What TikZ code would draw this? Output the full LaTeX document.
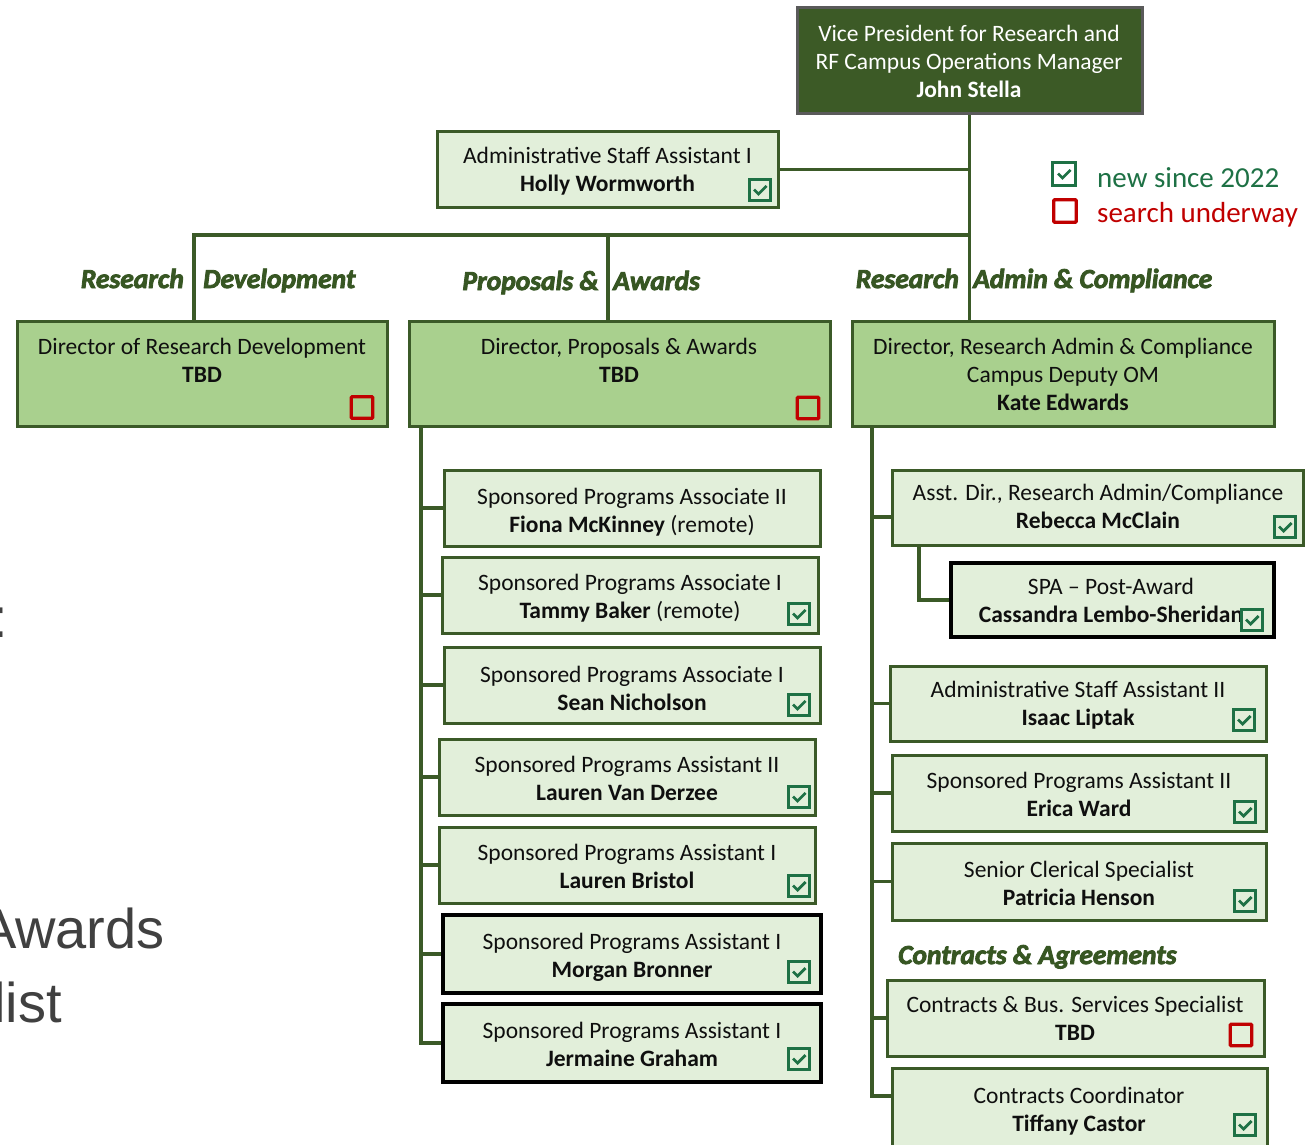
\documentclass[tikz,border=0pt]{standalone}
\usepackage{fontspec}
\setmainfont{Carlito}
\newfontfamily\headfont{Carlito}[FakeBold=3]
\newfontfamily\grayfont{Liberation Sans}
\usetikzlibrary{fit}
\definecolor{lnG}{HTML}{3B5A28}
\definecolor{vpG}{HTML}{3C5A26}
\definecolor{vpB}{HTML}{5A5A5A}
\definecolor{dirG}{HTML}{A9D08E}
\definecolor{stG}{HTML}{E2EFDA}
\definecolor{chkG}{HTML}{1E7145}
\definecolor{redC}{HTML}{C00000}
\definecolor{headG}{HTML}{375623}
\definecolor{grayT}{HTML}{404040}
\definecolor{txtK}{HTML}{0F0F0F}
\pgfdeclarelayer{bg}
\pgfsetlayers{bg,main}
\tikzset{
  conn/.style={draw=lnG, line width=3.2pt},
  boxbase/.style={inner sep=0pt, outer sep=0pt, line width=3pt},
  vpbox/.style={boxbase, fill=vpG, draw=vpB},
  dirbox/.style={boxbase, fill=dirG, draw=lnG},
  stbox/.style={boxbase, fill=stG, draw=lnG},
  stboxk/.style={boxbase, fill=stG, draw=black, line width=3.6pt},
  txt/.style={inner sep=0pt, align=center, yshift=-2.5pt, font=\fontsize{23.5}{28}\selectfont, text=txtK},
  vptxt/.style={txt, text=white},
  head/.style={inner sep=0pt, font=\headfont\bfseries\itshape\fontsize{27.5}{32}\selectfont, text=headG},
  legtxt/.style={inner sep=0pt, font=\fontsize{29}{34}\selectfont},
  graytxt/.style={inner sep=0pt, font=\grayfont\fontsize{56}{64}\selectfont, text=grayT},
  chkbox/.style={draw=chkG, line width=3pt, minimum size=21.5pt, inner sep=0pt,
    path picture={\draw[chkG, line width=2.8pt]
      ([xshift=-6pt, yshift=0.5pt]path picture bounding box.center) -- ++(4.5pt,-4.5pt) -- ++(8pt,8pt);}},
  redbox/.style={draw=redC, line width=3.4pt, minimum size=21.5pt, inner sep=0pt, rounded corners=1pt},
}
\newcommand\orgnode[7]{%
  \node[#2, fit={(#3) (#4)}] (#1) {};
  \node[txt] (#1-t) at (#5,#6) {#7};
}
\begin{document}
\begin{tikzpicture}[x=1pt, y=-1pt]
\useasboundingbox (0,0) rectangle (1306,1145);
\clip (0,0) rectangle (1306,1145);
\begin{pgfonlayer}{bg}
\fill[white] (0,0) rectangle (1306,1145);
\end{pgfonlayer}

% ---- top
\node[vpbox, fit={(797,8) (1142,114)}] (vp) {};
\node[vptxt] (vp-t) at (969,61) {\strut Vice President for Research and\\\strut RF Campus Operations Manager\\\strut\textbf{John Stella}};
\orgnode{asa}{stbox}{437,132}{778,207}{607.5}{169}{\strut Administrative Staff Assistant I\\\strut\textbf{Holly Wormworth}}
\node[chkbox] (c-asa) at (760,190) {};

% ---- legend
\node[chkbox, minimum size=22.5pt, line width=3pt] (lg-c) at (1064,174) {};
\node[legtxt, text=chkG, anchor=base west] (lg-ct) at (1097,187) {new since 2022};
\node[redbox, minimum size=22.5pt] (lg-r) at (1065,211) {};
\node[legtxt, text=redC, anchor=base west] (lg-rt) at (1097,222) {search underway};

% ---- section headings
\node[head, anchor=base east] (h1a) at (184,288) {Research};
\node[head, anchor=base west] (h1b) at (203,288) {Development};
\node[head, anchor=base east] (h2a) at (599,290) {Proposals \&};
\node[head, anchor=base west] (h2b) at (613,290) {Awards};
\node[head, anchor=base east] (h3a) at (959,288) {Research};
\node[head, anchor=base west] (h3b) at (973,288) {Admin \& Compliance};
\node[head, anchor=base west] (h4) at (898,964) {Contracts \& Agreements};

% ---- directors
\orgnode{rd}{dirbox}{17,321}{387,426}{202}{360}{\strut Director of Research Development\\\strut\textbf{TBD}}
\node[redbox] (r-rd) at (362,407.5) {};
\orgnode{pa}{dirbox}{409,321}{830,426}{619}{360}{\strut Director, Proposals \& Awards\\\strut\textbf{TBD}}
\node[redbox] (r-pa) at (808,408) {};
\orgnode{rac}{dirbox}{852,321}{1274,426}{1063}{374}{\strut Director, Research Admin \& Compliance\\\strut Campus Deputy OM\\\strut\textbf{Kate Edwards}}

% ---- Proposals & Awards staff
\orgnode{fio}{stbox}{444,470}{820,546}{632}{510}{\strut Sponsored Programs Associate II\\\strut\textbf{Fiona McKinney} (remote)}
\orgnode{tam}{stbox}{442,557}{818,633}{630}{596}{\strut Sponsored Programs Associate I\\\strut\textbf{Tammy Baker} (remote)}
\node[chkbox] (c-tam) at (799,614) {};
\orgnode{sea}{stbox}{444,647}{820,723}{632}{688}{\strut Sponsored Programs Associate I\\\strut\textbf{Sean Nicholson}}
\node[chkbox] (c-sea) at (799,705) {};
\orgnode{lvd}{stbox}{439,739}{815,815}{627}{778}{\strut Sponsored Programs Assistant II\\\strut\textbf{Lauren Van Derzee}}
\node[chkbox] (c-lvd) at (799,797) {};
\orgnode{lbr}{stbox}{439,827}{815,903}{627}{866}{\strut Sponsored Programs Assistant I\\\strut\textbf{Lauren Bristol}}
\node[chkbox] (c-lbr) at (799,886) {};
\orgnode{mor}{stboxk}{443,915}{821,993}{632}{955}{\strut Sponsored Programs Assistant I\\\strut\textbf{Morgan Bronner}}
\node[chkbox] (c-mor) at (799,972) {};
\orgnode{jer}{stboxk}{443,1004}{821,1082}{632}{1044}{\strut Sponsored Programs Assistant I\\\strut\textbf{Jermaine Graham}}
\node[chkbox] (c-jer) at (799,1059) {};

% ---- Research Admin & Compliance staff
\orgnode{reb}{stbox}{892,470}{1303,545}{1098}{506}{\strut Asst. Dir., Research Admin/Compliance\\\strut\textbf{Rebecca McClain}}
\node[chkbox] (c-reb) at (1285,527) {};
\orgnode{cas}{stboxk}{951,563}{1274,637}{1111}{600}{\strut SPA – Post-Award\\\strut\textbf{Cassandra Lembo-Sheridan}}
\node[chkbox] (c-cas) at (1252,620) {};
\orgnode{isa}{stbox}{890,666}{1266,741}{1078}{703}{\strut Administrative Staff Assistant II\\\strut\textbf{Isaac Liptak}}
\node[chkbox] (c-isa) at (1244,720) {};
\orgnode{eri}{stbox}{892,755}{1266,831}{1079}{794}{\strut Sponsored Programs Assistant II\\\strut\textbf{Erica Ward}}
\node[chkbox] (c-eri) at (1245,812) {};
\orgnode{pat}{stbox}{892,843}{1266,920}{1079}{883}{\strut Senior Clerical Specialist\\\strut\textbf{Patricia Henson}}
\node[chkbox] (c-pat) at (1245,901) {};
\orgnode{cbs}{stbox}{887,980}{1264,1056}{1075}{1018}{\strut Contracts \& Bus. Services Specialist\\\strut\textbf{TBD}}
\node[redbox] (r-cbs) at (1241,1035) {};
\orgnode{tif}{stbox}{892,1068}{1267,1160}{1079}{1109}{\strut Contracts Coordinator\\\strut\textbf{Tiffany Castor}}
\node[chkbox] (c-tif) at (1245,1125) {};

% ---- clipped gray text at left edge
\node[graytxt, anchor=base east] (g1) at (8,637) {:};
\node[graytxt, anchor=base east] (g2) at (165,948) {Awards};
\node[graytxt, anchor=base east] (g3) at (62,1022) {list};

% ---- connectors
\coordinate (barL) at (194,235);
\coordinate (barP) at (608,235);
\coordinate (paT) at (421,0);
\coordinate (racT) at (872,0);
\coordinate (casT) at (919,0);
\coordinate (rebB) at ([yshift=-9.5pt]reb.west);
\coordinate (tifB) at ([yshift=18pt]tif.west);
\begin{pgfonlayer}{bg}
\draw[conn] (vp.south) -- (vp.south |- rac.north);
\draw[conn] (asa.east) -- (asa.east -| vp.south);
\draw[conn] (barL |- rd.north) -- (barL) -- (barL -| vp.south);
\draw[conn] (barP) -- (barP |- pa.north);
\draw[conn] (paT |- pa.south) -- (paT |- jer.west) -- (jer.west);
\foreach \n in {fio,tam,sea,lvd,lbr,mor} \draw[conn] (paT |- \n.west) -- (\n.west);
\draw[conn] (racT |- rac.south) -- (racT |- tifB) -- (tifB);
\draw[conn] (racT |- rebB) -- (rebB);
\foreach \n in {isa,eri,pat,cbs} \draw[conn] (racT |- \n.west) -- (\n.west);
\draw[conn] (casT |- reb.south) |- (cas.west);
\end{pgfonlayer}
\end{tikzpicture}
\end{document}
